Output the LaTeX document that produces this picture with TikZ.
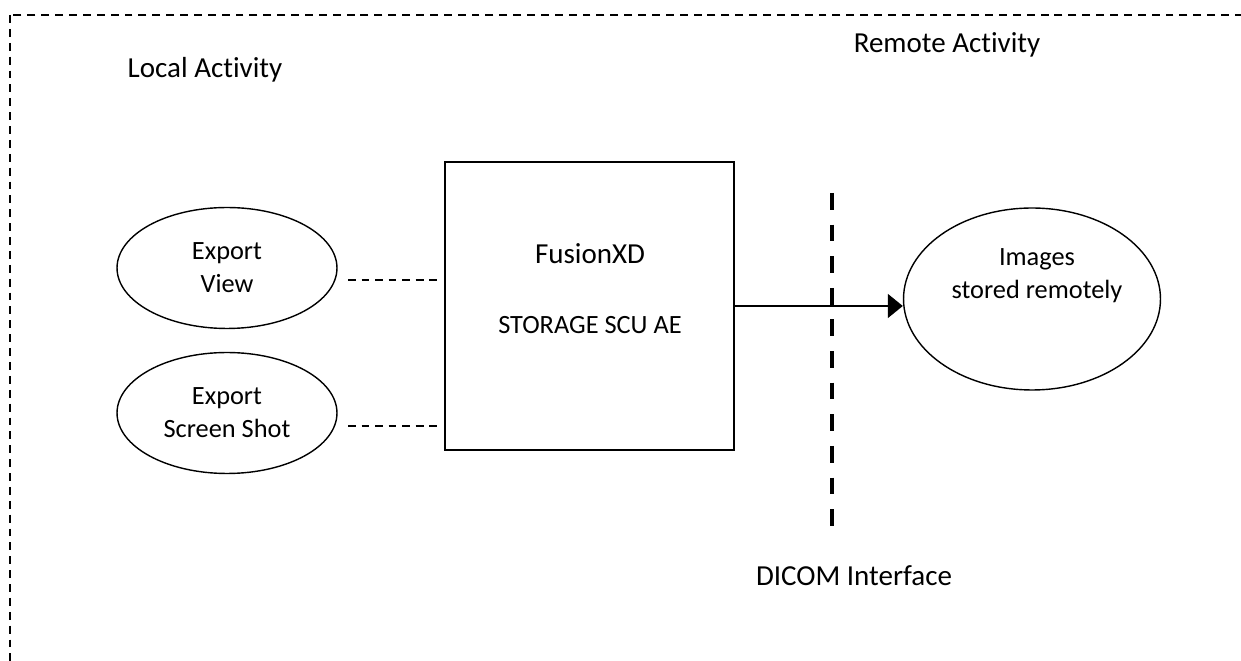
\documentclass[tikz,border=0pt]{standalone}
\usepackage{fontspec}
\setmainfont{Carlito}[Ligatures=NoCommon]
\usetikzlibrary{shapes.geometric,arrows.meta}

\tikzset{
  bigtext/.style={font=\fontsize{16.5}{20}\selectfont},
  smalltext/.style={font=\fontsize{15}{18.7}\selectfont,align=center},
  usecase/.style={ellipse,draw,line width=0.8pt,inner sep=0pt,smalltext},
  border/.style={line width=0.8pt,dash pattern=on 4.5pt off 3.4pt},
  link/.style={line width=0.6pt,dash pattern=on 4.5pt off 3.2pt},
  iface/.style={line width=2.3pt,dash pattern=on 9.5pt off 8.5pt}
}

\begin{document}
\begin{tikzpicture}[x=0.02cm,y=-0.02cm]
\clip (0,0) rectangle (1241,661);
\draw[border] (10,15) rectangle (1270,690);
\node[bigtext] (local) at (205,70) {Local Activity};
\node[bigtext] (remote) at (947,45) {Remote Activity};
\node[usecase,minimum width=4.4cm,minimum height=2.42cm] (view) at (227,268) {Export\\View};
\node[usecase,minimum width=4.4cm,minimum height=2.42cm] (shot) at (227,413) {Export\\Screen Shot};
\node[draw,line width=1pt,minimum width=5.78cm,minimum height=5.76cm] (fxd) at (589.5,306) {};
\node[bigtext] (fxdname) at (590,254) {FusionXD};
\node[smalltext] (fxdrole) at (590,325) {STORAGE SCU AE};
\node[ellipse,draw,line width=0.8pt,minimum width=5.14cm,minimum height=3.64cm] (imgs) at (1032,299) {};
\node[smalltext] (imgstext) at (1037,276) {Images\\stored remotely};
\coordinate (viewend) at (348,280);
\coordinate (shotend) at (348,426);
\draw[link] (viewend) -- ([xshift=-0.1cm]viewend -| fxd.west);
\draw[link] (shotend) -- ([xshift=-0.1cm]shotend -| fxd.west);
\coordinate (ifacetop) at (832,193);
\coordinate (ifacebot) at (832,537);
\draw[iface] (ifacetop) -- (ifacebot);
\draw[line width=1.2pt,-{Triangle[length=8.5pt,width=13.5pt]}] (fxd.east) -- (fxd.east -| imgs.west);
\node[bigtext] (dicom) at (854,576) {DICOM Interface};
\end{tikzpicture}
\end{document}
